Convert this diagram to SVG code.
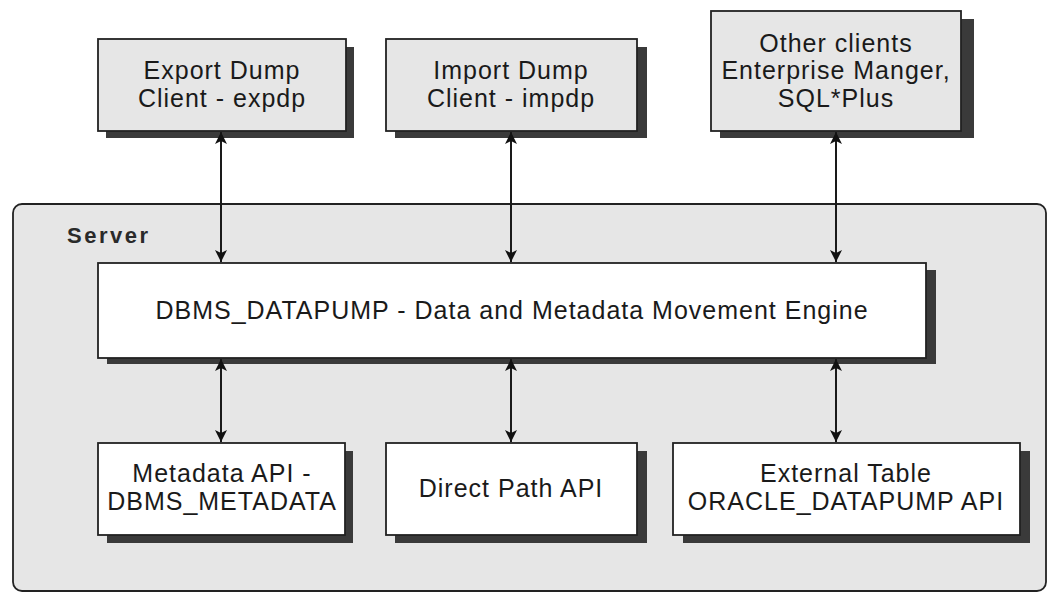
<svg xmlns="http://www.w3.org/2000/svg" width="1050" height="595" viewBox="0 0 1050 595">
  <defs>
    <style>
      .shadow { fill: #3a3a3a; }
      .client { fill: #e6e6e6; stroke: #222; stroke-width: 1.8; }
      .box { fill: #ffffff; stroke: #222; stroke-width: 1.8; }
      .label { font-family: "Liberation Sans", Arial, sans-serif; font-size: 25px; letter-spacing: 1px; fill: #1a1a1a; text-anchor: middle; }
      .title { font-family: "Liberation Sans", Arial, sans-serif; font-size: 22px; letter-spacing: 2.5px; font-weight: bold; fill: #2a2a2a; }
      .link { stroke: #1a1a1a; stroke-width: 2; fill: none; marker-start: url(#head); marker-end: url(#head); }
    </style>
    <marker id="head" viewBox="0 0 12 12" refX="12" refY="6" markerWidth="12" markerHeight="12" markerUnits="userSpaceOnUse" orient="auto-start-reverse">
      <path d="M0,0 L12,6 L0,12 L3,6 Z" fill="#111"/>
    </marker>
  </defs>

  <rect width="1050" height="595" fill="#ffffff"/>

  <!-- server container -->
  <g id="server">
    <rect x="13" y="204" width="1033" height="387" rx="9" fill="#e6e6e6" stroke="#222" stroke-width="1.8"/>
    <text class="title" x="67" y="243">Server</text>
  </g>

  <!-- client tools -->
  <g id="export-client">
    <rect class="shadow" x="106" y="47" width="248" height="91"/>
    <rect class="client" x="98" y="39" width="248" height="92"/>
    <text class="label" x="222" y="79">Export Dump</text>
    <text class="label" x="222" y="107">Client - expdp</text>
  </g>
  <g id="import-client">
    <rect class="shadow" x="395" y="47" width="252" height="91"/>
    <rect class="client" x="386" y="39" width="251" height="92"/>
    <text class="label" x="511" y="79">Import Dump</text>
    <text class="label" x="511" y="107">Client - impdp</text>
  </g>
  <g id="other-clients">
    <rect class="shadow" x="720" y="19" width="254" height="119"/>
    <rect class="client" x="711" y="11" width="250" height="120"/>
    <text class="label" x="836" y="52">Other clients</text>
    <text class="label" x="836" y="79">Enterprise Manger,</text>
    <text class="label" x="836" y="107">SQL*Plus</text>
  </g>

  <!-- engine -->
  <g id="datapump-engine">
    <rect class="shadow" x="107" y="270" width="829" height="94"/>
    <rect class="box" x="98" y="263" width="828" height="95"/>
    <text class="label" x="512" y="319">DBMS_DATAPUMP - Data and Metadata Movement Engine</text>
  </g>

  <!-- APIs -->
  <g id="metadata-api">
    <rect class="shadow" x="107" y="451" width="246" height="92"/>
    <rect class="box" x="98" y="443" width="247" height="92"/>
    <text class="label" x="222" y="482">Metadata API -</text>
    <text class="label" x="222" y="510">DBMS_METADATA</text>
  </g>
  <g id="direct-path-api">
    <rect class="shadow" x="395" y="451" width="252" height="92"/>
    <rect class="box" x="386" y="443" width="251" height="92"/>
    <text class="label" x="511" y="497">Direct Path API</text>
  </g>
  <g id="external-table-api">
    <rect class="shadow" x="683" y="451" width="347" height="92"/>
    <rect class="box" x="673" y="443" width="347" height="92"/>
    <text class="label" x="846" y="482">External Table</text>
    <text class="label" x="846" y="510">ORACLE_DATAPUMP API</text>
  </g>

  <!-- connectors -->
  <g id="connectors">
    <line class="link" x1="221" y1="132" x2="221" y2="262"/>
    <line class="link" x1="511" y1="132" x2="511" y2="262"/>
    <line class="link" x1="836" y1="132" x2="836" y2="262"/>
    <line class="link" x1="221" y1="359" x2="221" y2="442"/>
    <line class="link" x1="511" y1="359" x2="511" y2="442"/>
    <line class="link" x1="836" y1="359" x2="836" y2="442"/>
  </g>
</svg>
